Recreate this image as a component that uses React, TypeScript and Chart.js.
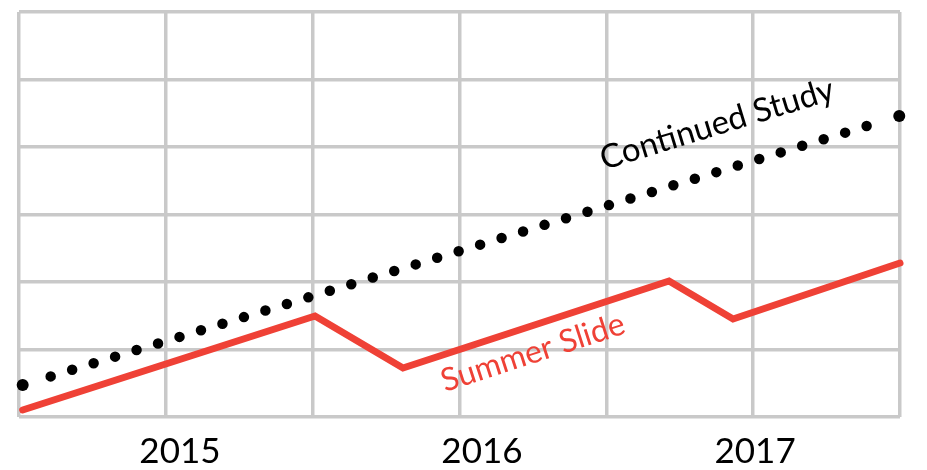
import React, { useEffect, useRef } from "react";
import { Chart, registerables } from "chart.js";

Chart.register(...registerables);

// x-axis year labels and where they sit on the 0..6 horizontal scale
const yearLabels = ["2015", "2016", "2017"];
const yearPositions = [1.096, 3.153, 5.013];

// "Continued Study" (dotted black) series
const studyX = [0.025, 5.995];
const studyY = [0.474, 4.459];

// "Summer Slide" (red) series
const slideX = [0.025, 2.016, 2.615, 4.427, 4.863, 6.0];
const slideY = [0.104, 1.496, 0.726, 2.015, 1.452, 2.281];

// in-chart series labels (anchored in data units)
const noteText = ["Continued Study", "Summer Slide"];
const noteX = [3.984, 2.901];
const noteY = [3.66, 0.37];
const noteAngle = [-17, -18];
const noteColor = ["#000000", "#ef4136"];

const GRID = "#c9c9c9";
const RED = "#ef4136";

function dotPattern(first: number, gap: number, count: number): number[] {
  const p: number[] = [0, first];
  for (let i = 0; i < count; i++) p.push(0, gap);
  p.push(0, 200);
  return p;
}

const notesPlugin = {
  id: "notes",
  afterDatasetsDraw(chart: any) {
    const { ctx, scales } = chart;
    noteText.forEach((t, i) => {
      const px = scales.x.getPixelForValue(noteX[i]);
      const py = scales.y.getPixelForValue(noteY[i]);
      ctx.save();
      ctx.translate(px, py);
      ctx.rotate((noteAngle[i] * Math.PI) / 180);
      ctx.font = i === 0 ? "33px Lato" : "32px Lato";
      ctx.fillStyle = noteColor[i];
      ctx.textAlign = "left";
      ctx.textBaseline = "alphabetic";
      ctx.fillText(t, 0, 0);
      ctx.restore();
    });
  },
};

export default function App() {
  const ref = useRef<HTMLCanvasElement | null>(null);

  useEffect(() => {
    if (!ref.current) return;
    const chart = new Chart(ref.current, {
      type: "line",
      data: {
        datasets: [
          {
            label: "Continued Study",
            data: studyX.map((x, i) => ({ x, y: studyY[i] })),
            borderColor: "#000000",
            borderWidth: 10.5,
            borderCapStyle: "round",
            borderDash: dotPattern(29.3, 22.46, 38),
            pointRadius: 6,
            pointBackgroundColor: "#000000",
            pointBorderWidth: 0,
            fill: false,
            tension: 0,
            clip: false,
          } as any,
          {
            label: "Summer Slide",
            data: slideX.map((x, i) => ({ x, y: slideY[i] })),
            borderColor: RED,
            borderWidth: 7,
            borderCapStyle: "round",
            borderJoinStyle: "miter",
            pointRadius: 0,
            fill: false,
            tension: 0,
            clip: false,
          } as any,
        ],
      },
      options: {
        animation: false,
        responsive: true,
        maintainAspectRatio: false,
        layout: { padding: { left: 19, top: 12, right: 27, bottom: 0 } },
        plugins: { legend: { display: false }, tooltip: { enabled: false } },
        scales: {
          x: {
            type: "linear",
            min: 0,
            max: 6,
            position: "bottom",
            ticks: { display: false, stepSize: 1 },
            grid: { color: GRID, lineWidth: 3.5, drawTicks: false },
            border: { display: false },
            afterFit(s: any) {
              s.height = 0;
            },
          },
          x2: {
            type: "linear",
            min: 0,
            max: 6,
            position: "bottom",
            grid: { display: false, drawTicks: false },
            border: { display: false },
            afterBuildTicks(s: any) {
              s.ticks = yearPositions.map((v) => ({ value: v }));
            },
            ticks: {
              autoSkip: false,
              maxRotation: 0,
              padding: 14,
              color: "#000000",
              font: { family: "Lato, sans-serif", size: 35 },
              callback: (v: any) => {
                const i = yearPositions.indexOf(Number(v));
                return i >= 0 ? yearLabels[i] : "";
              },
            },
            afterFit(s: any) {
              s.height = 53;
            },
          },
          y: {
            type: "linear",
            min: 0,
            max: 6,
            ticks: { display: false, stepSize: 1 },
            grid: { color: GRID, lineWidth: 3.5, drawTicks: false },
            border: { display: false },
            afterFit(s: any) {
              s.width = 0;
            },
          },
        },
      },
      plugins: [notesPlugin],
    });
    return () => chart.destroy();
  }, []);

  return (
    <div style={{ position: "fixed", left: 0, top: 0, width: 927, height: 470, background: "#fff" }}>
      <canvas ref={ref} />
    </div>
  );
}
